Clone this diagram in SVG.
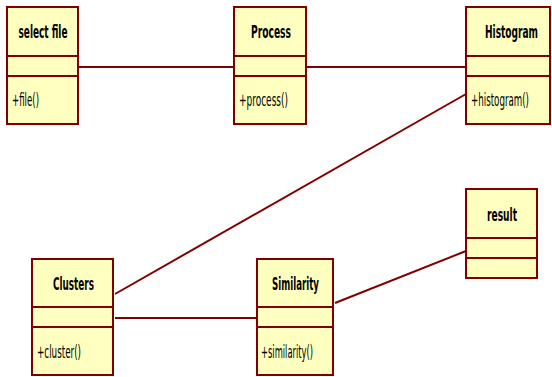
<svg xmlns="http://www.w3.org/2000/svg" width="552" height="377" viewBox="0 0 552 377">
<style>
.box{fill:#FFFFC0;stroke:#800000;stroke-width:2}
.div{stroke:#800000;stroke-width:2}
.conn{stroke:#800000;stroke-width:2;fill:none}
.t{font-family:"DejaVu Sans Condensed","DejaVu Sans",sans-serif;font-weight:bold;font-size:18px;fill:#000;text-anchor:middle}
.m{font-family:"DejaVu Sans Condensed","DejaVu Sans",sans-serif;font-size:17px;fill:#000}
</style>
<rect width="552" height="377" fill="#fff"/>
<g id="connectors">
<line class="conn" x1="79" y1="67" x2="234" y2="67"/>
<line class="conn" x1="307" y1="67" x2="466" y2="67"/>
<line class="conn" x1="466" y1="94" x2="115" y2="294"/>
<line class="conn" x1="115" y1="318" x2="257" y2="318"/>
<line class="conn" x1="335" y1="303" x2="466" y2="251"/>
</g>
<g id="select-file">
<rect class="box" x="7" y="7" width="71" height="117"/>
<line class="div" x1="7" y1="56" x2="78" y2="56"/>
<line class="div" x1="7" y1="76" x2="78" y2="76"/>
<text class="t" x="43" y="38" textLength="49" lengthAdjust="spacingAndGlyphs">select file</text>
<text class="m" x="12" y="106" textLength="27" lengthAdjust="spacingAndGlyphs">+file()</text>
</g>
<g id="process">
<rect class="box" x="234" y="7" width="72" height="117"/>
<line class="div" x1="234" y1="56" x2="306" y2="56"/>
<line class="div" x1="234" y1="76" x2="306" y2="76"/>
<text class="t" x="271" y="38" textLength="40" lengthAdjust="spacingAndGlyphs">Process</text>
<text class="m" x="239" y="106" textLength="49" lengthAdjust="spacingAndGlyphs">+process()</text>
</g>
<g id="histogram">
<rect class="box" x="466" y="7" width="84" height="117"/>
<line class="div" x1="466" y1="56" x2="550" y2="56"/>
<line class="div" x1="466" y1="76" x2="550" y2="76"/>
<text class="t" x="511.5" y="38" textLength="53" lengthAdjust="spacingAndGlyphs">Histogram</text>
<text class="m" x="471" y="106" textLength="58" lengthAdjust="spacingAndGlyphs">+histogram()</text>
</g>
<g id="clusters">
<rect class="box" x="32" y="259" width="81" height="116"/>
<line class="div" x1="32" y1="307" x2="113" y2="307"/>
<line class="div" x1="32" y1="327" x2="113" y2="327"/>
<text class="t" x="73.5" y="290" textLength="41" lengthAdjust="spacingAndGlyphs">Clusters</text>
<text class="m" x="37" y="358" textLength="44" lengthAdjust="spacingAndGlyphs">+cluster()</text>
</g>
<g id="similarity">
<rect class="box" x="257" y="259" width="76" height="116"/>
<line class="div" x1="257" y1="307" x2="333" y2="307"/>
<line class="div" x1="257" y1="327" x2="333" y2="327"/>
<text class="t" x="295.5" y="290" textLength="47" lengthAdjust="spacingAndGlyphs">Similarity</text>
<text class="m" x="261" y="358" textLength="52" lengthAdjust="spacingAndGlyphs">+similarity()</text>
</g>
<g id="result">
<rect class="box" x="466" y="189" width="71" height="89"/>
<line class="div" x1="466" y1="238" x2="537" y2="238"/>
<line class="div" x1="466" y1="258" x2="537" y2="258"/>
<text class="t" x="502" y="221" textLength="30" lengthAdjust="spacingAndGlyphs">result</text>
</g>
</svg>
